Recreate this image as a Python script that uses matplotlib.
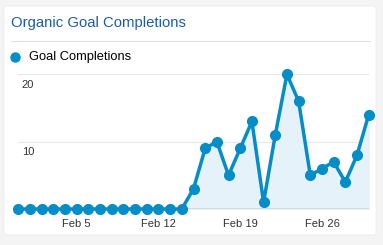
import matplotlib.pyplot as plt
from matplotlib.patches import FancyBboxPatch
from matplotlib.lines import Line2D

plt.rcParams['font.family'] = ['Liberation Sans', 'DejaVu Sans']

days = list(range(31))  # Jan 31 .. Mar 2
completions = [0, 0, 0, 0, 0, 0, 0, 0, 0, 0, 0, 0, 0, 0, 0,
               3, 9, 10, 5, 9, 13, 1, 11, 20, 16, 5, 6, 7, 4, 8, 14]
tick_pos = [5, 12, 19, 26]
tick_labels = ['Feb 5', 'Feb 12', 'Feb 19', 'Feb 26']
y_ticks = [10, 20]

blue = '#058dc7'
W, H = 383, 245

fig = plt.figure(figsize=(W / 100, H / 100), dpi=100)
fig.patch.set_facecolor('#f4f4f4')

# white card
card = FancyBboxPatch((4 / W, 10 / H), 372 / W, 229 / H,
                      boxstyle='round,pad=0,rounding_size=0.008',
                      transform=fig.transFigure, facecolor='white',
                      edgecolor='#ececec', linewidth=0.6, zorder=-5)
fig.patches.append(card)

fig.text(11 / W, 1 - 23 / H, 'Organic Goal Completions', color='#1f5ca6',
         fontsize=10.7, va='center', ha='left')
fig.add_artist(Line2D([11 / W, 370 / W], [1 - 41 / H, 1 - 41 / H],
                      transform=fig.transFigure, color='#e2e2e2', lw=0.8))

# legend
fig.add_artist(Line2D([15 / W], [1 - 57 / H], marker='o', markersize=6.5,
                      color=blue, transform=fig.transFigure))
fig.text(29 / W, 1 - 57 / H, 'Goal Completions', color='black',
         fontsize=9.3, va='center', ha='left')

x0, x1 = 18.3, 368.7
yb, yt = 209, 74.3
ax = fig.add_axes([x0 / W, 1 - yb / H, (x1 - x0) / W, (yb - yt) / H])
ax.set_facecolor('none')
ax.set_xlim(0, 30)
ax.set_ylim(0, 20)

for v in y_ticks:
    ax.axhline(v, color='#e8e8e8', lw=0.8, zorder=0)
    ax.annotate(str(v), xy=(0, v), xytext=(2.5, -4), textcoords='offset points',
                va='top', ha='left', fontsize=8, color='#333333')

ax.fill_between(days, completions, 0, color='#e6f2f9', zorder=1)
ax.axhline(0, color='#444444', lw=0.9, zorder=2)
ax.plot(days, completions, color=blue, lw=2.5, marker='o', markersize=7,
        zorder=3, clip_on=False)

ax.set_xticks(tick_pos)
ax.set_xticklabels(tick_labels, fontsize=8, color='#333333')
ax.tick_params(length=0, pad=7)
ax.set_yticks([])
for s in ax.spines.values():
    s.set_visible(False)

fig.savefig('out.png', dpi=100, facecolor=fig.get_facecolor())
